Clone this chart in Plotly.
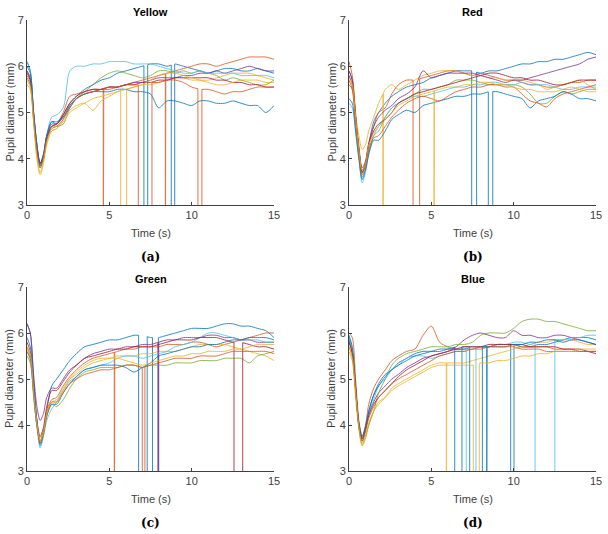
import numpy as np
import plotly.graph_objects as go

# ---------------- data ----------------
T = [0, 0.2, 0.4, 0.6, 0.8, 1.0, 1.2, 1.5, 1.8, 2.2, 2.6, 3, 3.5, 4, 4.5, 5, 5.5, 6, 6.5, 7,
     7.5, 8, 8.5, 9, 9.5, 10, 10.5, 11, 11.5, 12, 12.5, 13, 13.5, 14, 14.5, 15]

panel_titles = ["Yellow", "Red", "Green", "Blue"]
panel_captions = ["(a)", "(b)", "(c)", "(d)"]
x_title = "Time (s)"
y_title = "Pupil diameter (mm)"
x_ticks = [0, 5, 10, 15]
y_ticks = [3, 4, 5, 6, 7]

yellow_lines = [
    [6.1, 5.9, 5.0, 4.3, 3.9, 4.1, 4.5, 4.8, 4.75, 4.95, 5.2, 5.35, 5.5, 5.6, 5.7, 5.75, 5.85, 5.9, 5.95, 6.0, 6.05, 6.05, 6.0, 6.05, 6.0, 5.95, 5.9, 5.85, 5.9, 5.95, 5.95, 5.9, 5.9, 5.95, 5.9, 5.85],
    [5.9, 5.7, 4.9, 4.2, 3.85, 4.05, 4.45, 4.7, 4.75, 5.0, 5.35, 5.4, 5.45, 5.5, 5.5, 5.5, 5.55, 5.6, 5.65, 5.7, 5.75, 5.8, 5.85, 5.9, 5.95, 6.0, 6.05, 6.05, 6.0, 6.05, 6.1, 6.15, 6.2, 6.2, 6.2, 6.15],
    [5.6, 5.5, 4.8, 4.0, 3.65, 3.9, 4.3, 4.6, 4.65, 4.85, 5.05, 5.15, 5.2, 5.05, 5.25, 5.35, 5.45, 5.5, 5.55, 5.6, 5.6, 5.65, 5.7, 5.75, 5.75, 5.7, 5.7, 5.7, 5.75, 5.8, 5.85, 5.85, 5.85, 5.8, 5.75, 5.7],
    [5.9, 5.75, 5.0, 4.3, 3.9, 4.1, 4.5, 4.75, 4.75, 4.9, 5.15, 5.3, 5.4, 5.45, 5.5, 5.55, 5.55, 5.6, 5.65, 5.65, 5.7, 5.75, 5.75, 5.75, 5.8, 5.8, 5.85, 5.85, 5.9, 5.85, 5.9, 5.95, 6.0, 5.95, 5.9, 5.9],
    [5.8, 5.65, 4.9, 4.2, 3.8, 4.0, 4.4, 4.7, 4.7, 4.75, 5.1, 5.3, 5.45, 5.6, 5.75, 5.85, 5.9, 5.85, 5.8, 5.75, 5.8, 5.9, 5.9, 5.85, 5.9, 5.85, 5.9, 5.85, 5.8, 5.7, 5.75, 5.7, 5.65, 5.6, 5.6, 5.7],
    [6.1, 5.9, 5.0, 4.3, 3.85, 4.05, 4.5, 4.9, 4.95, 5.1, 5.9, 6.0, 6.0, 6.05, 6.05, 6.1, 6.1, 6.1, 6.05, 6.05, 6.05, 6.0, 5.95, 5.9, 5.85, 5.85, 5.9, 5.85, 5.85, 5.85, 5.85, 5.8, 5.8, 5.8, 5.8, 5.75],
    [5.85, 5.7, 4.95, 4.25, 3.9, 4.05, 4.45, 4.7, 4.75, 4.95, 5.2, 5.35, 5.45, 5.5, 5.5, 5.55, 5.55, 5.6, 5.6, 5.65, 5.65, 5.7, 5.7, 5.75, 5.75, 5.75, 5.75, 5.75, 5.7, 5.7, 5.65, 5.65, 5.6, 5.6, 5.55, 5.55],
    [6.0, 5.85, 5.0, 4.3, 3.85, 4.05, 4.5, 4.8, 4.8, 4.9, 5.1, 5.3, 5.4, 5.45, 5.45, 5.45, 5.5, 5.5, 5.45, 5.45, 5.4, 5.1, 5.25, 5.25, 5.2, 5.15, 5.25, 5.25, 5.2, 5.2, 5.25, 5.2, 5.15, 5.15, 5.0, 5.15],
    [5.75, 5.6, 4.85, 4.15, 3.8, 4.0, 4.4, 4.65, 4.7, 4.85, 5.15, 5.3, 5.4, 5.45, 5.5, 5.55, 5.55, 5.6, 5.6, 5.6, 5.65, 5.65, 5.7, 5.7, 5.65, 5.55, 5.5, 5.5, 5.45, 5.4, 5.45, 5.45, 5.5, 5.55, 5.55, 5.55],
    [5.7, 5.55, 4.8, 4.05, 3.7, 3.95, 4.35, 4.6, 4.65, 4.8, 5.0, 5.1, 5.2, 5.3, 5.35, 5.4, 5.45, 5.5, 5.55, 5.6, 5.7, 5.8, 5.85, 5.85, 5.8, 5.75, 5.7, 5.65, 5.6, 5.6, 5.65, 5.7, 5.7, 5.7, 5.65, 5.65],
]
yellow_dropouts = {0: [(7.1, 7.33), (8.76, 8.97)], 1: [(4.63, 4.66), (8.4, 8.43)],
                   2: [(5.69, 6.05)], 8: [(6.76, 7.59), (10.38, 10.62)]}

red_lines = [
    [5.9, 5.7, 4.9, 4.2, 3.7, 3.9, 4.3, 4.8, 5.0, 5.2, 5.35, 5.45, 5.55, 5.6, 5.65, 5.75, 5.8, 5.85, 5.9, 5.9, 5.9, 5.85, 5.9, 5.9, 5.95, 6.0, 6.05, 6.05, 6.1, 6.1, 6.15, 6.15, 6.2, 6.25, 6.3, 6.25],
    [6.1, 5.8, 5.0, 4.3, 3.75, 3.9, 4.3, 4.7, 5.0, 5.1, 5.4, 5.6, 5.7, 5.7, 5.75, 5.8, 5.85, 5.9, 5.9, 5.85, 5.8, 5.85, 5.8, 5.75, 5.7, 5.7, 5.65, 5.6, 5.6, 5.55, 5.55, 5.6, 5.65, 5.65, 5.7, 5.7],
    [5.6, 5.5, 4.9, 4.5, 4.2, 4.3, 4.6, 4.9, 5.2, 5.5, 5.6, 5.5, 5.6, 5.7, 5.8, 5.85, 5.9, 5.9, 5.9, 5.85, 5.8, 5.8, 5.75, 5.75, 5.7, 5.7, 5.7, 5.65, 5.6, 5.5, 5.55, 5.6, 5.65, 5.7, 5.6, 5.5],
    [5.9, 5.7, 4.9, 4.2, 3.8, 3.95, 4.35, 4.7, 4.9, 5.05, 5.15, 5.3, 5.4, 5.55, 5.9, 5.75, 5.8, 5.85, 5.85, 5.85, 5.85, 5.8, 5.75, 5.7, 5.65, 5.7, 5.7, 5.75, 5.8, 5.85, 5.9, 5.95, 6.0, 6.05, 6.15, 6.2],
    [5.6, 5.5, 4.8, 4.1, 3.6, 3.8, 4.15, 4.5, 4.6, 4.9, 5.1, 5.2, 5.3, 5.4, 5.5, 5.5, 5.55, 5.6, 5.7, 5.7, 5.7, 5.65, 5.6, 5.6, 5.6, 5.6, 5.55, 5.4, 5.2, 5.2, 5.35, 5.45, 5.4, 5.45, 5.5, 5.5],
    [5.2, 5.1, 4.6, 4.0, 3.48, 3.7, 4.1, 4.5, 4.7, 4.9, 5.1, 5.2, 5.3, 5.35, 5.35, 5.4, 5.45, 5.5, 5.55, 5.55, 5.6, 5.6, 5.65, 5.65, 5.6, 5.6, 5.65, 5.6, 5.6, 5.6, 5.55, 5.5, 5.5, 5.55, 5.55, 5.55],
    [5.8, 5.6, 4.9, 4.2, 3.7, 3.9, 4.3, 4.6, 4.75, 4.85, 5.0, 5.2, 5.3, 5.4, 5.45, 5.5, 5.55, 5.6, 5.65, 5.7, 5.75, 5.8, 5.85, 5.85, 5.8, 5.75, 5.75, 5.7, 5.7, 5.65, 5.6, 5.6, 5.65, 5.7, 5.7, 5.7],
    [5.3, 5.2, 4.6, 4.0, 3.55, 3.75, 4.1, 4.4, 4.4, 4.6, 4.85, 4.95, 5.05, 5.0, 5.15, 5.2, 5.25, 5.3, 5.35, 5.35, 5.4, 5.4, 5.45, 5.45, 5.4, 5.35, 5.3, 5.1, 5.25, 5.3, 5.35, 5.45, 5.4, 5.3, 5.3, 5.25],
    [5.7, 5.5, 4.8, 4.15, 3.65, 3.85, 4.2, 4.45, 4.5, 4.7, 4.9, 5.05, 5.2, 5.3, 5.35, 5.3, 5.25, 5.35, 5.45, 5.5, 5.55, 5.55, 5.6, 5.6, 5.55, 5.55, 5.4, 5.25, 5.2, 5.12, 5.3, 5.4, 5.45, 5.5, 5.55, 5.6],
    [5.75, 5.6, 4.9, 4.2, 3.75, 3.9, 4.3, 4.55, 4.7, 4.85, 5.0, 5.15, 5.25, 5.35, 5.4, 5.45, 5.5, 5.55, 5.55, 5.6, 5.6, 5.65, 5.65, 5.6, 5.6, 5.55, 5.5, 5.5, 5.45, 5.45, 5.45, 5.5, 5.55, 5.5, 5.45, 5.45],
]
red_dropouts = {0: [(7.45, 7.75)], 1: [(3.89, 4.29)], 2: [(2.06, 2.09)],
                7: [(8.46, 8.73)], 9: [(5.16, 5.19)]}

green_lines = [
    [6.2, 6.0, 5.0, 4.1, 3.55, 3.8, 4.3, 4.85, 5.0, 5.2, 5.4, 5.55, 5.7, 5.75, 5.8, 5.85, 5.85, 5.9, 5.95, 5.95, 5.9, 5.9, 5.95, 6.0, 6.05, 6.1, 6.1, 6.1, 6.15, 6.2, 6.2, 6.15, 6.15, 6.1, 6.05, 5.9],
    [5.7, 5.5, 4.7, 4.0, 3.65, 3.85, 4.3, 4.55, 4.6, 4.85, 5.05, 5.2, 5.35, 5.45, 5.5, 5.55, 5.6, 5.65, 5.65, 5.7, 5.7, 5.7, 5.75, 5.75, 5.75, 5.8, 5.8, 5.75, 5.7, 5.75, 5.8, 5.85, 5.9, 5.95, 6.0, 6.0],
    [5.65, 5.5, 4.7, 4.0, 3.7, 3.9, 4.3, 4.5, 4.55, 4.8, 5.0, 5.1, 5.25, 5.35, 5.4, 5.45, 5.5, 5.5, 5.5, 5.55, 5.55, 5.6, 5.6, 5.6, 5.65, 5.7, 5.75, 5.75, 5.75, 5.75, 5.7, 5.65, 5.6, 5.55, 5.5, 5.4],
    [6.2, 6.0, 5.1, 4.4, 4.1, 4.25, 4.6, 4.8, 4.8, 5.0, 5.2, 5.3, 5.45, 5.55, 5.6, 5.65, 5.65, 5.7, 5.7, 5.75, 5.75, 5.8, 5.85, 5.85, 5.9, 5.9, 5.9, 5.95, 5.95, 5.9, 5.9, 5.85, 5.85, 5.8, 5.8, 5.8],
    [5.5, 5.35, 4.7, 4.0, 3.65, 3.85, 4.2, 4.45, 4.4, 4.55, 4.8, 5.0, 5.15, 5.2, 5.25, 5.25, 5.25, 5.3, 5.3, 5.25, 5.3, 5.3, 5.3, 5.35, 5.35, 5.35, 5.4, 5.4, 5.4, 5.45, 5.45, 5.45, 5.35, 5.5, 5.55, 5.6],
    [5.6, 5.4, 4.6, 3.95, 3.5, 3.75, 4.1, 4.35, 4.5, 4.75, 4.95, 5.05, 5.2, 5.25, 5.3, 5.35, 5.45, 5.5, 5.5, 5.45, 5.5, 5.55, 5.6, 5.7, 5.75, 5.8, 5.9, 6.0, 6.0, 5.95, 5.9, 5.85, 5.85, 5.85, 5.8, 5.8],
    [5.8, 5.6, 4.8, 4.1, 3.75, 3.95, 4.4, 4.75, 4.75, 4.95, 5.15, 5.3, 5.45, 5.5, 5.55, 5.6, 5.65, 5.65, 5.7, 5.7, 5.7, 5.75, 5.8, 5.85, 5.85, 5.85, 5.9, 5.9, 5.9, 5.85, 5.8, 5.8, 5.75, 5.7, 5.7, 5.65],
    [5.9, 5.7, 4.9, 4.1, 3.6, 3.85, 4.2, 4.45, 4.45, 4.7, 4.9, 5.05, 5.2, 5.25, 5.3, 5.3, 5.3, 5.25, 5.15, 5.25, 5.35, 5.5, 5.55, 5.6, 5.65, 5.7, 5.7, 5.75, 5.75, 5.8, 5.85, 5.85, 5.9, 5.9, 5.9, 5.85],
    [5.6, 5.45, 4.7, 4.0, 3.6, 3.8, 4.2, 4.5, 4.5, 4.7, 4.9, 5.0, 5.1, 5.15, 5.2, 5.2, 5.25, 5.3, 5.3, 5.25, 5.3, 5.35, 5.4, 5.45, 5.45, 5.45, 5.5, 5.5, 5.5, 5.55, 5.6, 5.6, 5.6, 5.6, 5.6, 5.55],
    [5.7, 5.55, 4.75, 4.05, 3.65, 3.85, 4.25, 4.5, 4.5, 4.75, 5.0, 5.15, 5.3, 5.4, 5.45, 5.45, 5.45, 5.4, 5.35, 5.3, 5.35, 5.4, 5.45, 5.5, 5.5, 5.55, 5.55, 5.6, 5.6, 5.6, 5.65, 5.65, 5.7, 5.75, 5.75, 5.75],
]
green_dropouts = {0: [(6.78, 7.3), (7.62, 7.98)], 1: [(5.3, 5.33)], 3: [(7.95, 8.0)],
                  6: [(12.57, 13.1)], 8: [(7.0, 7.16)]}

blue_lines = [
    [5.9, 5.6, 4.8, 4.0, 3.7, 3.95, 4.3, 4.65, 4.9, 5.1, 5.2, 5.35, 5.45, 5.55, 5.6, 5.6, 5.6, 5.65, 5.7, 5.7, 5.7, 5.7, 5.7, 5.75, 5.75, 5.75, 5.7, 5.7, 5.75, 5.75, 5.8, 5.85, 5.9, 5.9, 5.9, 5.85],
    [6.0, 5.9, 5.0, 4.1, 3.75, 4.0, 4.45, 4.8, 5.0, 5.2, 5.4, 5.5, 5.6, 5.65, 5.95, 6.15, 5.8, 5.7, 5.65, 5.65, 5.65, 5.7, 5.7, 5.75, 5.75, 5.75, 5.7, 5.7, 5.7, 5.7, 5.65, 5.65, 5.65, 5.6, 5.6, 5.6],
    [5.6, 5.4, 4.6, 3.9, 3.55, 3.7, 4.0, 4.3, 4.45, 4.6, 4.8, 4.9, 5.0, 5.1, 5.2, 5.3, 5.35, 5.35, 5.35, 5.35, 5.4, 5.45, 5.5, 5.55, 5.6, 5.65, 5.7, 5.75, 5.8, 5.8, 5.85, 5.85, 5.85, 5.8, 5.75, 5.75],
    [5.85, 5.6, 4.8, 4.0, 3.65, 3.9, 4.25, 4.5, 4.7, 4.85, 5.0, 5.1, 5.25, 5.35, 5.45, 5.5, 5.55, 5.6, 5.7, 5.85, 5.95, 6.0, 5.95, 5.9, 5.9, 6.05, 5.95, 5.95, 5.9, 5.9, 5.95, 5.95, 5.9, 5.85, 5.8, 5.75],
    [5.8, 5.6, 4.8, 3.95, 3.6, 3.75, 4.0, 4.3, 4.7, 5.0, 5.3, 5.45, 5.55, 5.6, 5.65, 5.7, 5.7, 5.7, 5.75, 5.75, 5.8, 5.95, 6.0, 6.0, 6.0, 6.1, 6.25, 6.3, 6.3, 6.25, 6.25, 6.2, 6.15, 6.1, 6.05, 6.05],
    [5.9, 5.6, 4.8, 4.0, 3.7, 3.9, 4.25, 4.55, 4.85, 5.0, 5.2, 5.3, 5.45, 5.5, 5.5, 5.45, 5.5, 5.55, 5.6, 5.6, 5.65, 5.7, 5.7, 5.75, 5.75, 5.8, 5.8, 5.75, 5.8, 5.85, 5.85, 5.85, 5.9, 5.9, 5.95, 5.95],
    [5.8, 5.55, 4.8, 4.0, 3.7, 3.9, 4.2, 4.45, 4.6, 4.75, 4.9, 5.05, 5.2, 5.3, 5.4, 5.5, 5.55, 5.6, 5.65, 5.7, 5.7, 5.7, 5.75, 5.75, 5.75, 5.75, 5.75, 5.7, 5.7, 5.7, 5.7, 5.65, 5.65, 5.65, 5.6, 5.55],
    [5.95, 5.7, 4.85, 4.05, 3.75, 3.95, 4.3, 4.65, 4.85, 5.05, 5.2, 5.3, 5.4, 5.5, 5.55, 5.6, 5.65, 5.65, 5.65, 5.65, 5.7, 5.7, 5.7, 5.7, 5.7, 5.75, 5.75, 5.8, 5.8, 5.85, 5.85, 5.8, 5.85, 5.85, 5.8, 5.75],
    [5.7, 5.5, 4.75, 4.0, 3.65, 3.85, 4.15, 4.4, 4.6, 4.75, 4.9, 5.0, 5.1, 5.2, 5.3, 5.4, 5.5, 5.55, 5.6, 5.6, 5.65, 5.65, 5.7, 5.7, 5.7, 5.7, 5.65, 5.65, 5.65, 5.6, 5.6, 5.6, 5.6, 5.6, 5.6, 5.6],
    [5.7, 5.45, 4.7, 3.95, 3.55, 3.75, 4.05, 4.3, 4.5, 4.6, 4.75, 4.85, 4.95, 5.05, 5.15, 5.25, 5.3, 5.3, 5.3, 5.3, 5.3, 5.35, 5.35, 5.4, 5.4, 5.45, 5.5, 5.5, 5.55, 5.55, 5.6, 5.6, 5.6, 5.65, 5.65, 5.65],
]
blue_dropouts = {0: [(6.42, 6.86), (9.82, 10.02)], 2: [(5.91, 5.94)], 5: [(7.12, 7.71), (11.3, 12.5)],
                 7: [(7.33, 8.1), (8.36, 8.39)], 9: [(7.55, 7.91)]}

panel_lines = [yellow_lines, red_lines, green_lines, blue_lines]
panel_dropouts = [yellow_dropouts, red_dropouts, green_dropouts, blue_dropouts]

# MATLAB default colour order
colors = ["#0072BD", "#D95319", "#EDB120", "#7E2F8E", "#77AC30", "#4DBEEE", "#A2142F"]

# ---------------- layout geometry ----------------
W, H = 608, 534
col_px = [(27, 274), (349, 596)]
row_px = [(20, 205), (287, 471)]

def px_x(p):
    return p / W

def px_y(p):
    return 1 - p / H

fig = go.Figure()
FONT = "Liberation Sans, Arial, Helvetica, sans-serif"
AX_COLOR = "#404040"

t_arr = np.array(T, dtype=float)

for k in range(4):
    xa = "x" if k == 0 else f"x{k+1}"
    ya = "y" if k == 0 else f"y{k+1}"
    for i, vals in enumerate(panel_lines[k]):
        col = colors[i % len(colors)]
        v = np.array(vals, dtype=float)
        drops = sorted(panel_dropouts[k].get(i, []))
        start = 0.0
        segs = []
        for (a, b) in drops:
            segs.append((start, a))
            start = b
        segs.append((start, 15.0))
        for (s0, s1) in segs:
            mask = (t_arr > s0) & (t_arr < s1)
            xs = [s0] + list(t_arr[mask]) + [s1]
            ys = [float(np.interp(s0, t_arr, v))] + list(v[mask]) + [float(np.interp(s1, t_arr, v))]
            fig.add_trace(go.Scatter(x=xs, y=ys, mode="lines", xaxis=xa, yaxis=ya,
                                     line=dict(color=col, width=1, shape="spline", smoothing=0.8),
                                     opacity=0.8, showlegend=False, hoverinfo="skip"))
        for (a, b) in drops:
            va = float(np.interp(a, t_arr, v))
            vb = float(np.interp(b, t_arr, v))
            fig.add_trace(go.Scatter(x=[a, a, b, b], y=[va, 0, 0, vb], mode="lines",
                                     xaxis=xa, yaxis=ya,
                                     line=dict(color=col, width=1), opacity=0.8,
                                     showlegend=False, hoverinfo="skip"))

layout = dict(width=W, height=H, margin=dict(l=0, r=0, t=0, b=0, autoexpand=False),
              paper_bgcolor="white", plot_bgcolor="white",
              font=dict(family=FONT, size=11, color=AX_COLOR), showlegend=False)

annotations = []
for k in range(4):
    r, c = divmod(k, 2)
    x0, x1 = col_px[c]
    y0, y1 = row_px[r]
    sx = "" if k == 0 else str(k + 1)
    layout[f"xaxis{sx}"] = dict(
        domain=[px_x(x0), px_x(x1)], anchor=f"y{sx}", range=[0, 15], automargin=False,
        tickvals=x_ticks, ticks="inside", ticklen=3, tickcolor=AX_COLOR,
        showline=True, linecolor=AX_COLOR, linewidth=1, mirror=False,
        showgrid=False, zeroline=False, tickfont=dict(size=11, color=AX_COLOR))
    layout[f"yaxis{sx}"] = dict(
        domain=[px_y(y1), px_y(y0)], anchor=f"x{sx}", range=[3, 7], automargin=False,
        tickvals=y_ticks, ticks="inside", ticklen=3, tickcolor=AX_COLOR,
        showline=True, linecolor=AX_COLOR, linewidth=1, mirror=False,
        showgrid=False, zeroline=False, tickfont=dict(size=11, color=AX_COLOR))
    cx = px_x((x0 + x1) / 2)
    annotations.append(dict(text=f"<b>{panel_titles[k]}</b>", x=cx, y=px_y(y0 - 8),
                            xref="paper", yref="paper", showarrow=False,
                            font=dict(size=11, color="black", family=FONT),
                            xanchor="center", yanchor="middle"))
    annotations.append(dict(text=x_title, x=cx, y=px_y(y1 + 28),
                            xref="paper", yref="paper", showarrow=False,
                            font=dict(size=11, color=AX_COLOR, family=FONT),
                            xanchor="center", yanchor="middle"))
    annotations.append(dict(text=y_title, x=px_x(x0 - 18), y=px_y((y0 + y1) / 2),
                            xref="paper", yref="paper", showarrow=False, textangle=-90,
                            font=dict(size=11, color=AX_COLOR, family=FONT),
                            xanchor="center", yanchor="middle"))
    annotations.append(dict(text=f"<b>{panel_captions[k]}</b>", x=cx, y=px_y(y1 + 52),
                            xref="paper", yref="paper", showarrow=False,
                            font=dict(size=12, color="black", family="DejaVu Serif, serif"),
                            xanchor="center", yanchor="middle"))
layout["annotations"] = annotations
fig.update_layout(**layout)

# remove the default 8px page margin so the figure fills the window exactly
fig.write_html("out.html", config={"displayModeBar": False},
               post_script="document.body.style.margin='0px';")
